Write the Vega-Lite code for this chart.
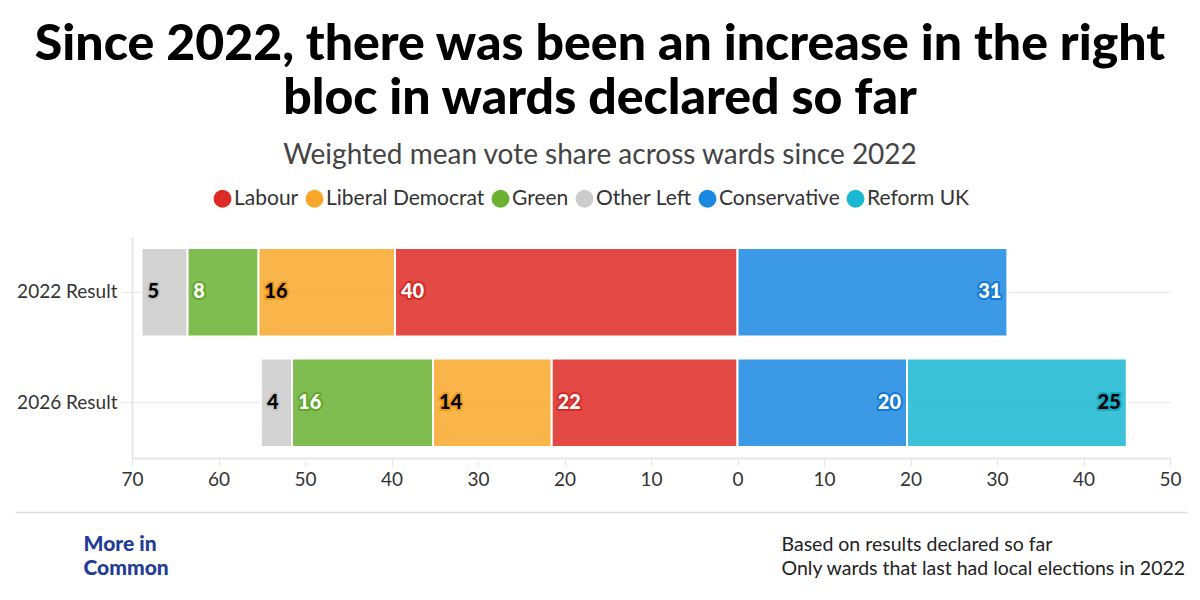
{
  "$schema": "https://vega.github.io/schema/vega-lite/v6.json",
  "width": 1038,
  "height": 221,
  "autosize": {"type": "none"},
  "padding": {"left": 132, "top": 237, "right": 30, "bottom": 142},
  "background": "white",
  "title": {
    "text": ["Since 2022, there was been an increase in the right", "bloc in wards declared so far"],
    "subtitle": "Weighted mean vote share across wards since 2022",
    "anchor": "middle",
    "dx": -51,
    "offset": 18,
    "font": "Lato",
    "fontSize": 50,
    "fontWeight": 900,
    "lineHeight": 54,
    "color": "#000000",
    "subtitleFont": "Lato",
    "subtitleFontSize": 28,
    "subtitleColor": "#444444",
    "subtitlePadding": 18
  },
  "data": {
    "values": [
      {"result": "2022 Result", "party": "Labour", "bloc": "Left", "share": 39.6},
      {"result": "2022 Result", "party": "Liberal Democrat", "bloc": "Left", "share": 15.8},
      {"result": "2022 Result", "party": "Green", "bloc": "Left", "share": 8.2},
      {"result": "2022 Result", "party": "Other Left", "bloc": "Left", "share": 5.3},
      {"result": "2022 Result", "party": "Conservative", "bloc": "Right", "share": 31.2},
      {"result": "2026 Result", "party": "Labour", "bloc": "Left", "share": 21.5},
      {"result": "2026 Result", "party": "Liberal Democrat", "bloc": "Left", "share": 13.7},
      {"result": "2026 Result", "party": "Green", "bloc": "Left", "share": 16.3},
      {"result": "2026 Result", "party": "Other Left", "bloc": "Left", "share": 3.6},
      {"result": "2026 Result", "party": "Conservative", "bloc": "Right", "share": 19.6},
      {"result": "2026 Result", "party": "Reform UK", "bloc": "Right", "share": 25.4}
    ]
  },
  "transform": [
    {"calculate": "datum.bloc == 'Left' ? -datum.share : datum.share", "as": "signed"},
    {"calculate": "indexof(['Labour','Liberal Democrat','Green','Other Left','Conservative','Reform UK'], datum.party)", "as": "rank"},
    {"stack": "signed", "groupby": ["result"], "sort": [{"field": "rank", "order": "ascending"}], "as": ["x0", "x1"]},
    {"calculate": "format(datum.share, '.0f')", "as": "label"}
  ],
  "encoding": {
    "y": {
      "field": "result",
      "type": "nominal",
      "sort": ["2022 Result", "2026 Result"],
      "scale": {"paddingInner": 0.2, "paddingOuter": 0.1},
      "axis": {
        "title": ["More in", "Common"],
        "titleAngle": 0,
        "titleAlign": "left",
        "titleBaseline": "top",
        "titleX": -49,
        "titleY": 296,
        "titleFont": "Lato",
        "titleFontSize": 21,
        "titleFontWeight": 900,
        "titleLineHeight": 24,
        "titleColor": "#1f3c96",
        "labelFont": "Lato",
        "labelFontSize": 19,
        "labelColor": "#333333",
        "labelPadding": 5,
        "tickSize": 10,
        "tickColor": "#e6e6e6",
        "domainColor": "#e6e6e6",
        "domainWidth": 2,
        "grid": true,
        "gridColor": "#ececec",
        "gridWidth": 1.5
      }
    }
  },
  "resolve": {"scale": {"x": "independent"}, "axis": {"x": "independent"}},
  "layer": [
    {
      "mark": {"type": "bar", "opacity": 0.85, "stroke": "white", "strokeWidth": 2},
      "encoding": {
        "x": {
          "field": "x0",
          "type": "quantitative",
          "scale": {"domain": [-70, 50], "nice": false},
          "axis": {
            "orient": "bottom",
            "values": [-70, -60, -50, -40, -30, -20, -10, 0, 10, 20, 30, 40, 50],
            "labelExpr": "'' + abs(datum.value)",
            "labelFont": "Lato",
            "labelFontSize": 19,
            "labelColor": "#333333",
            "labelFlush": false,
            "labelPadding": 4,
            "tickSize": 8,
            "tickColor": "#e6e6e6",
            "domainColor": "#e6e6e6",
            "domainWidth": 2,
            "grid": false,
            "title": ["Based on results declared so far", "Only wards that last had local elections in 2022"],
            "titleAnchor": "start",
            "titleAlign": "left",
            "titleBaseline": "top",
            "titleX": 649,
            "titleY": 77,
            "titleFont": "Lato",
            "titleFontSize": 19.5,
            "titleFontWeight": "normal",
            "titleLineHeight": 24,
            "titleColor": "#222222"
          }
        },
        "x2": {"field": "x1"},
        "color": {
          "field": "party",
          "type": "nominal",
          "scale": {
            "domain": ["Labour", "Liberal Democrat", "Green", "Other Left", "Conservative", "Reform UK"],
            "range": ["#df2b25", "#f9a72b", "#6bb233", "#cccccc", "#1a88e1", "#19b8d3"]
          },
          "legend": {
            "orient": "none",
            "legendX": 80,
            "legendY": -49,
            "direction": "horizontal",
            "title": null,
            "symbolType": "circle",
            "symbolSize": 324,
            "symbolOpacity": 1,
            "symbolStrokeWidth": 0,
            "labelFont": "Lato",
            "labelFontSize": 21,
            "labelColor": "#333333",
            "labelOffset": 1,
            "columnPadding": 5
          }
        }
      }
    },
    {
      "encoding": {
        "x": {
          "field": "x1",
          "type": "quantitative",
          "scale": {"domain": [-83.526, 51.965], "range": [-117, 1055], "nice": false, "zero": false},
          "axis": {
            "orient": "bottom",
            "offset": 54,
            "labels": false,
            "ticks": false,
            "grid": false,
            "title": null,
            "domain": true,
            "domainColor": "#dddddd",
            "domainWidth": 1.5
          }
        },
        "text": {"field": "label"}
      },
      "layer": [
        {
          "transform": [{"filter": "datum.bloc == 'Left'"}],
          "mark": {"type": "text", "align": "left", "dx": 6, "font": "Lato", "fontSize": 20, "fontWeight": 900, "strokeWidth": 4, "strokeJoin": "round"},
          "encoding": {
            "stroke": {"field": "party", "type": "nominal", "scale": {"domain": ["Labour", "Liberal Democrat", "Green", "Other Left", "Conservative", "Reform UK"], "range": ["#d42a24", "#ef9a1f", "#5fa62b", "#c4c4c4", "#1479d0", "#17a9c2"]}, "legend": null}
          }
        },
        {
          "transform": [{"filter": "datum.bloc == 'Left'"}],
          "mark": {"type": "text", "align": "left", "dx": 6, "font": "Lato", "fontSize": 20, "fontWeight": 900},
          "encoding": {
            "color": {"condition": {"test": "indexof(['Labour','Green','Conservative'], datum.party) >= 0", "value": "white"}, "value": "black"}
          }
        },
        {
          "transform": [{"filter": "datum.bloc == 'Right'"}],
          "mark": {"type": "text", "align": "right", "dx": -6, "font": "Lato", "fontSize": 20, "fontWeight": 900, "strokeWidth": 4, "strokeJoin": "round"},
          "encoding": {
            "stroke": {"field": "party", "type": "nominal", "legend": null}
          }
        },
        {
          "transform": [{"filter": "datum.bloc == 'Right'"}],
          "mark": {"type": "text", "align": "right", "dx": -6, "font": "Lato", "fontSize": 20, "fontWeight": 900},
          "encoding": {
            "color": {"condition": {"test": "indexof(['Labour','Green','Conservative'], datum.party) >= 0", "value": "white"}, "value": "black"}
          }
        }
      ]
    }
  ],
  "config": {
    "view": {"stroke": null},
    "font": "Lato"
  }
}
